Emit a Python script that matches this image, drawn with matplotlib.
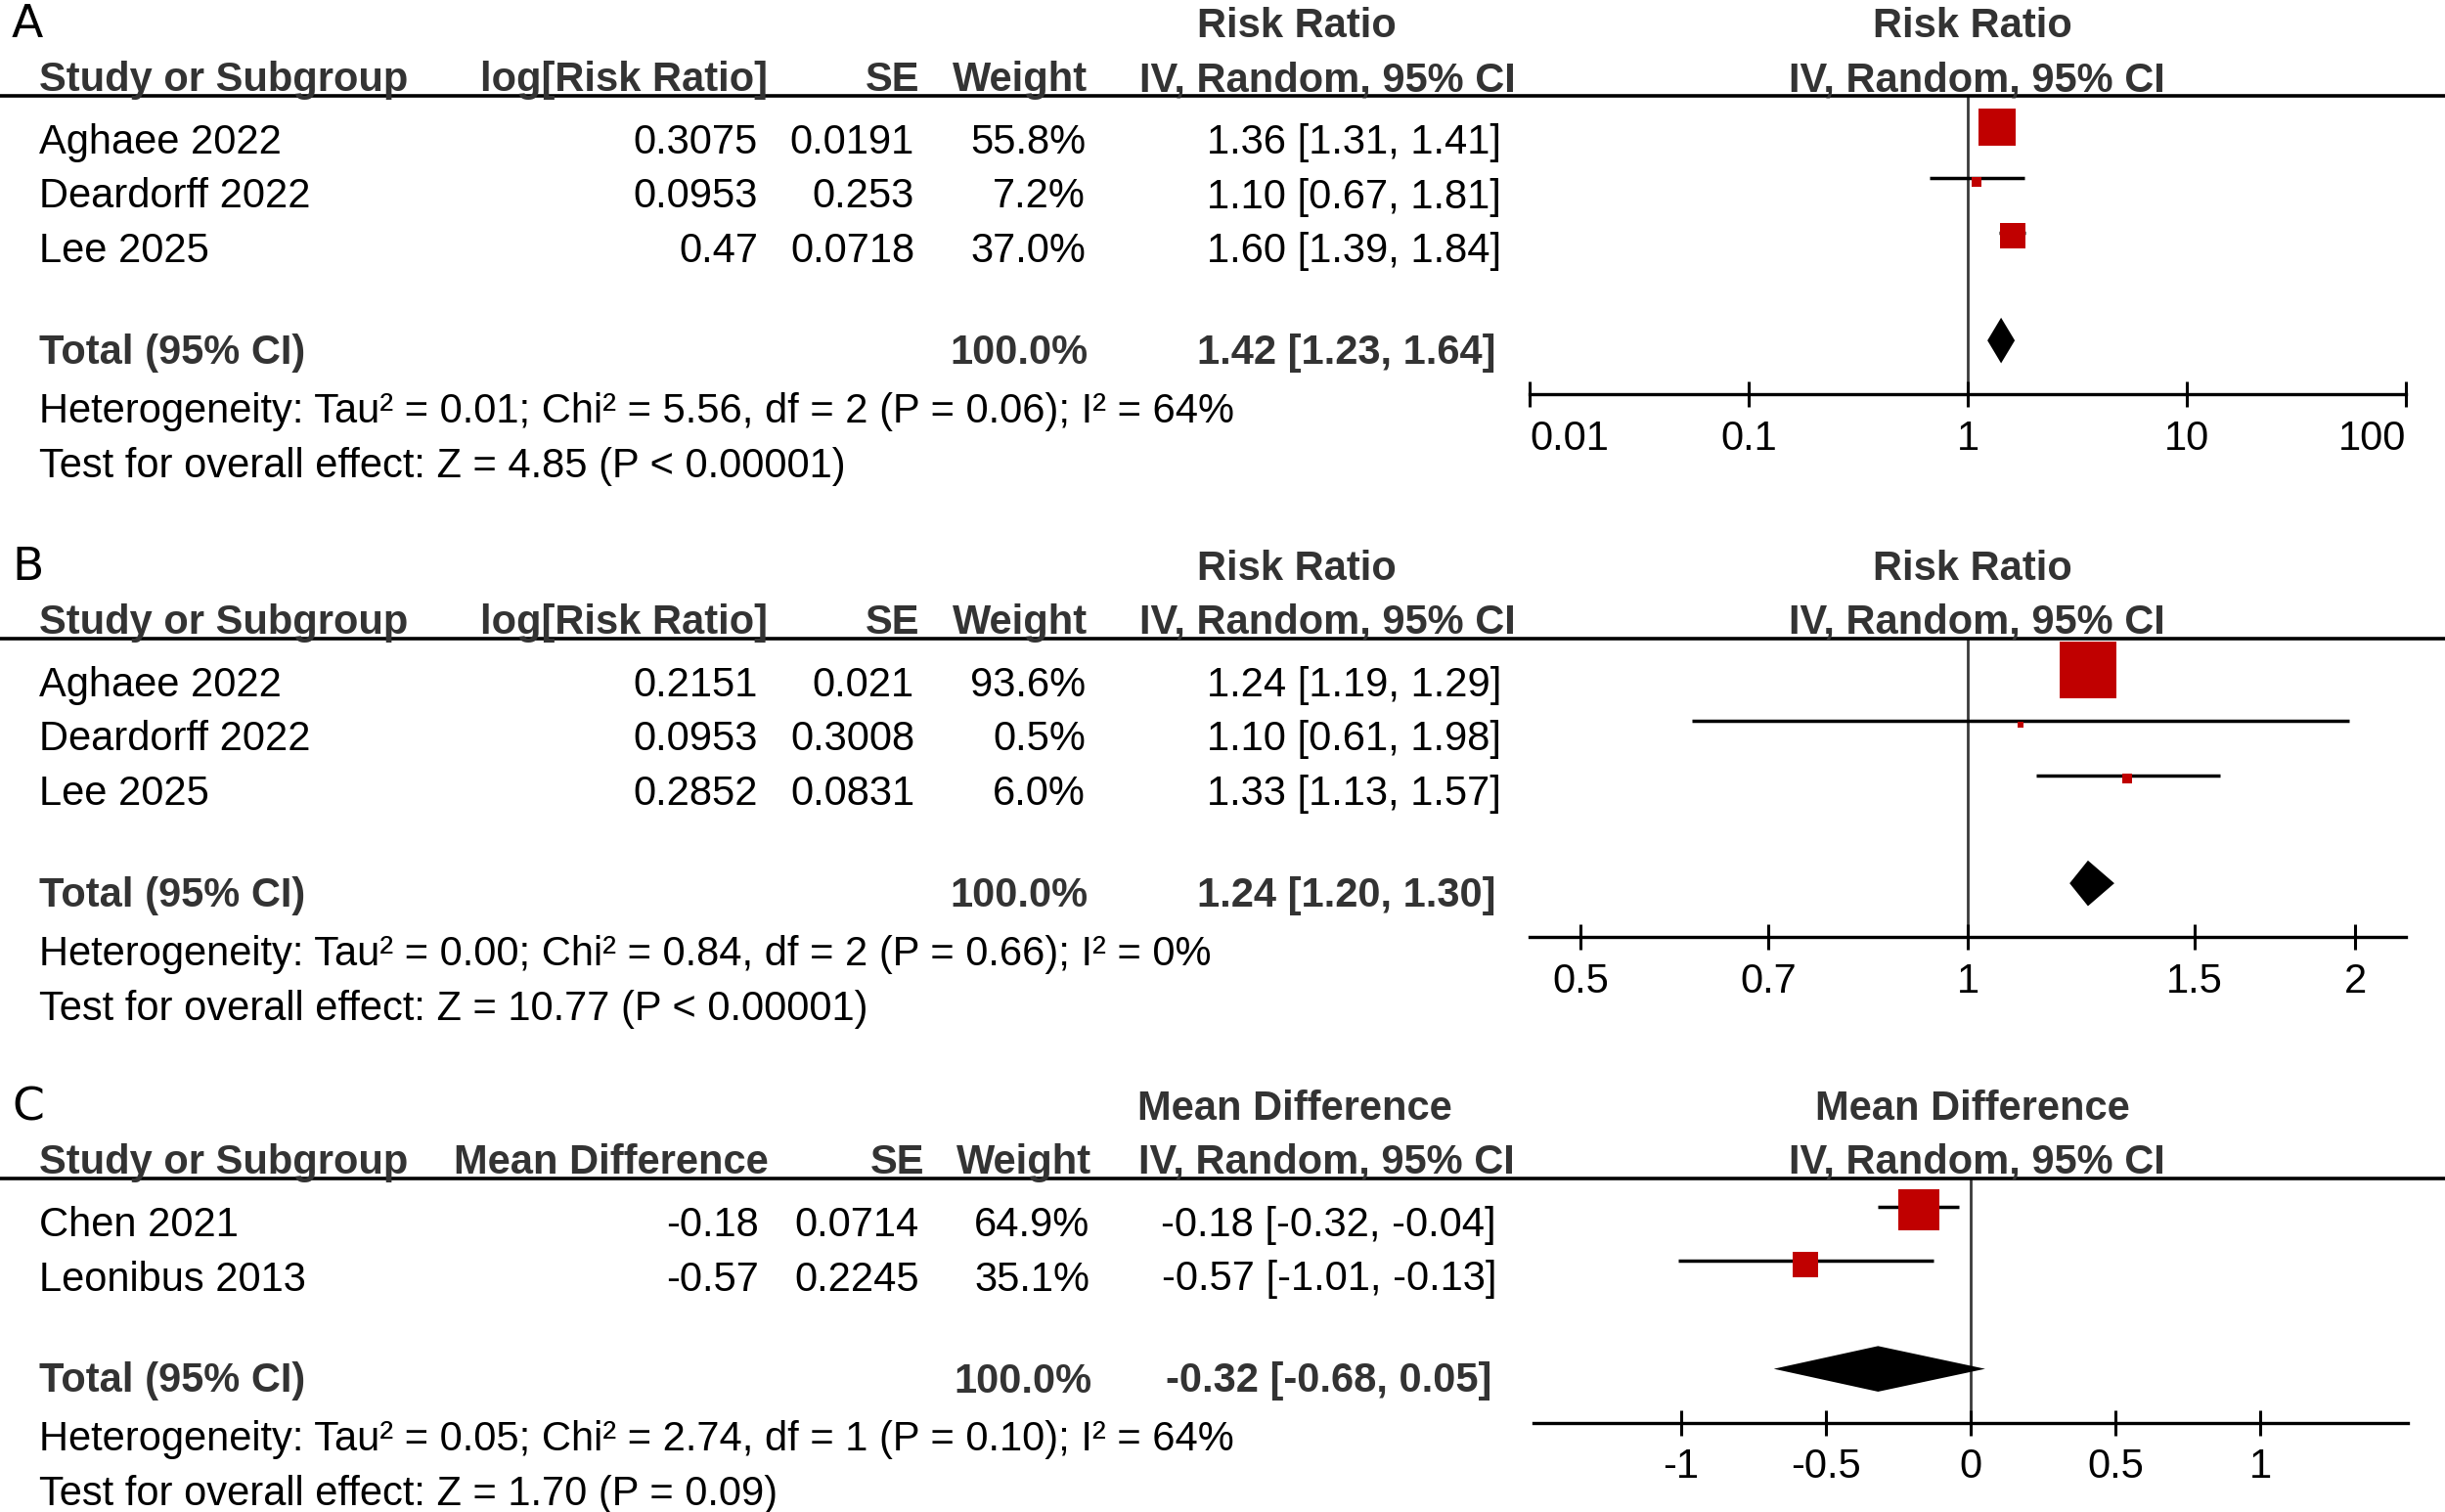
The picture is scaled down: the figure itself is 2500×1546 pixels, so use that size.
import numpy as np
import matplotlib
matplotlib.use('Agg')
import matplotlib.pyplot as plt
from matplotlib.lines import Line2D

# ---- data ----
a_studies = ['Aghaee 2022', 'Deardorff 2022', 'Lee 2025']
a_logrr = ['0.3075', '0.0953', '0.47']
a_se = ['0.0191', '0.253', '0.0718']
a_weight = [55.8, 7.2, 37.0]
a_est = [1.36, 1.10, 1.60]
a_lo = [1.31, 0.67, 1.39]
a_hi = [1.41, 1.81, 1.84]
a_total = [1.42, 1.23, 1.64]
a_het = 'Heterogeneity: Tau² = 0.01; Chi² = 5.56, df = 2 (P = 0.06); I² = 64%'
a_test = 'Test for overall effect: Z = 4.85 (P < 0.00001)'
a_ticks = [0.01, 0.1, 1, 10, 100]
a_ticklabels = ['0.01', '0.1', '1', '10', '100']

b_studies = ['Aghaee 2022', 'Deardorff 2022', 'Lee 2025']
b_logrr = ['0.2151', '0.0953', '0.2852']
b_se = ['0.021', '0.3008', '0.0831']
b_weight = [93.6, 0.5, 6.0]
b_est = [1.24, 1.10, 1.33]
b_lo = [1.19, 0.61, 1.13]
b_hi = [1.29, 1.98, 1.57]
b_total = [1.24, 1.20, 1.30]
b_het = 'Heterogeneity: Tau² = 0.00; Chi² = 0.84, df = 2 (P = 0.66); I² = 0%'
b_test = 'Test for overall effect: Z = 10.77 (P < 0.00001)'
b_ticks = [0.5, 0.7, 1, 1.5, 2]
b_ticklabels = ['0.5', '0.7', '1', '1.5', '2']

c_studies = ['Chen 2021', 'Leonibus 2013']
c_md = ['-0.18', '-0.57']
c_se = ['0.0714', '0.2245']
c_weight = [64.9, 35.1]
c_est = [-0.18, -0.57]
c_lo = [-0.32, -1.01]
c_hi = [-0.04, -0.13]
c_total = [-0.32, -0.68, 0.05]
c_het = 'Heterogeneity: Tau² = 0.05; Chi² = 2.74, df = 1 (P = 0.10); I² = 64%'
c_test = 'Test for overall effect: Z = 1.70 (P = 0.09)'
c_ticks = [-1, -0.5, 0, 0.5, 1]
c_ticklabels = ['-1', '-0.5', '0', '0.5', '1']

W, H = 2500, 1546
RED = '#C00000'
HDR = '#333333'
FONT = 'Liberation Sans'

fig = plt.figure(figsize=(W / 100, H / 100), dpi=100)


def put(x, y, s, ha='left', bold=False, color='black', size=30, family=FONT):
    fig.text(x / W, 1 - y / H, s, ha=ha, va='baseline', fontsize=size,
             fontweight='bold' if bold else 'normal', color=color, family=family)


def fmt_ci(e, lo, hi):
    return '%.2f [%.2f, %.2f]' % (e, lo, hi)


def panel(o, label, group, col2, studies, c2, se, weight, est, lo, hi, total,
          het, test, log, xlim, ticks, ticklabels, cols, axx):
    n = len(studies)
    c2r, ser, wr, cir, hcir, hgrp = cols
    put(12, o + 38, label, size=34, family=['Liberation Sans Narrow', 'DejaVu Sans'])
    put(hgrp, o + 38, group, ha='center', bold=True, color=HDR)
    put(2017, o + 38, group, ha='center', bold=True, color=HDR)
    put(40, o + 93, 'Study or Subgroup', bold=True, color=HDR)
    put(c2r, o + 93, col2, ha='right', bold=True, color=HDR)
    put(ser, o + 93, 'SE', ha='right', bold=True, color=HDR)
    put(wr, o + 93, 'Weight', ha='right', bold=True, color=HDR)
    put(hcir, o + 93, 'IV, Random, 95% CI', ha='right', bold=True, color=HDR)
    put(2021, o + 93, 'IV, Random, 95% CI', ha='center', bold=True, color=HDR)
    fig.add_artist(Line2D([0, 1], [1 - (o + 98) / H] * 2, transform=fig.transFigure,
                          color='black', lw=2.6))

    for i in range(n):
        yb = o + 157 + 55.5 * i
        put(40, yb, studies[i])
        put(c2r - 10, yb, c2[i], ha='right')
        put(ser - 5, yb, se[i], ha='right')
        put(wr - 2, yb, '%.1f%%' % weight[i], ha='right')
        put(cir, yb, fmt_ci(est[i], lo[i], hi[i]), ha='right')
    tb = o + 372 - 55.5 * (3 - n)
    put(40, tb, 'Total (95% CI)', bold=True, color=HDR)
    put(wr, tb, '100.0%', ha='right', bold=True, color=HDR)
    put(cir - 5, tb, fmt_ci(*total), ha='right', bold=True, color=HDR)
    put(40, tb + 60, het)
    put(40, tb + 116, test)

    # forest plot
    top = o + 98
    bot = top + 55.5 * (n + 2.497)
    x0, x1 = axx
    ax = fig.add_axes([x0 / W, 1 - bot / H, (x1 - x0) / W, (bot - top) / H])
    ax.patch.set_alpha(0)
    if log:
        ax.set_xscale('log')
    ax.set_xlim(xlim)
    ax.set_ylim(n + 1.92, -0.577)
    for s in ['top', 'left', 'right']:
        ax.spines[s].set_visible(False)
    ax.spines['bottom'].set_linewidth(2.4)
    ax.set_yticks([])
    ax.set_xticks(ticks)
    ax.xaxis.set_minor_locator(matplotlib.ticker.NullLocator())
    ax.set_xticklabels(ticklabels, fontsize=30, family=FONT)
    ax.tick_params(axis='x', direction='inout', length=19, width=2.2, pad=9)
    # end labels sitting on the axis ends are pulled inwards
    labs = ax.get_xticklabels()
    if ticks[0] == xlim[0]:
        labs[0].set_ha('left')
    if ticks[-1] == xlim[1]:
        labs[-1].set_ha('right')

    ref = 1 if log else 0
    ax.axvline(ref, color='#3a3a3a', lw=2, zorder=1)

    for i in range(n):
        ax.plot([lo[i], hi[i]], [i - 0.06, i - 0.06], color='black', lw=2.5, zorder=2,
                solid_capstyle='butt')
        side = 6 + 0.56 * weight[i]
        ax.plot([est[i]], [i], marker='s', ms=side * 0.72, color=RED, mew=0,
                zorder=3, clip_on=False)
    e, l, h = total
    yt = n + 0.93
    ax.fill([l, e, h, e], [yt, yt - 0.42, yt, yt + 0.42], color='black', lw=0, zorder=3)


panel(0, 'A', 'Risk Ratio', 'log[Risk Ratio]', a_studies, a_logrr, a_se, a_weight,
      a_est, a_lo, a_hi, a_total, a_het, a_test, True, (0.01, 100), a_ticks,
      a_ticklabels, (785, 940, 1112, 1535, 1550, 1326), (1564, 2460))
panel(555, 'B', 'Risk Ratio', 'log[Risk Ratio]', b_studies, b_logrr, b_se, b_weight,
      b_est, b_lo, b_hi, b_total, b_het, b_test, True, (np.exp(-0.784), np.exp(0.784)),
      b_ticks, b_ticklabels, (785, 940, 1112, 1535, 1550, 1326), (1564, 2460))
panel(1107, 'C', 'Mean Difference', 'Mean Difference', c_studies, c_md, c_se, c_weight,
      c_est, c_lo, c_hi, c_total, c_het, c_test, False, (-1.51, 1.51), c_ticks,
      c_ticklabels, (786, 945, 1116, 1530, 1549, 1324), (1568, 2462))

fig.savefig('out.png', dpi=100)
